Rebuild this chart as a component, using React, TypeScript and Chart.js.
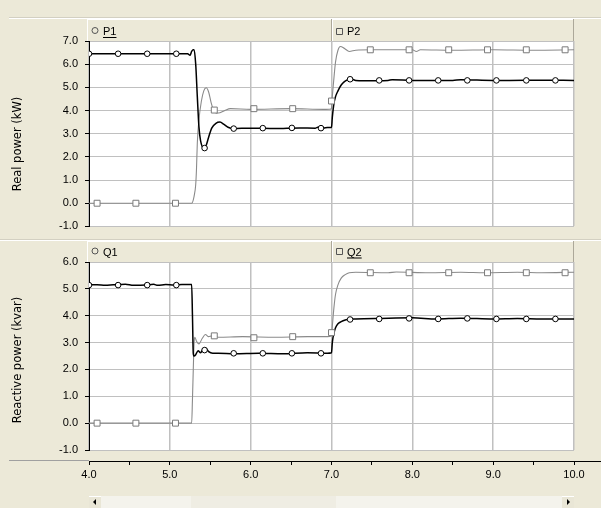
import React, { useEffect, useRef } from 'react';
import { Chart, registerables } from 'chart.js';

Chart.register(...registerables);

// ---------- data ----------
const xMin = 4;
const xMax = 10;

const p1Time = [4.0, 5.22, 5.25, 5.27, 5.29, 5.30, 5.32, 5.34, 5.36, 5.38, 5.42, 5.45, 5.48, 5.52, 5.57, 5.62, 5.67, 5.72, 5.78, 6.0, 6.3, 6.6, 6.8, 6.85, 6.9, 6.95, 7.0, 7.01, 7.03, 7.05, 7.08, 7.12, 7.16, 7.20, 7.24, 7.30, 7.40, 7.7, 7.75, 8.0, 8.5, 8.6, 9.0, 9.2, 9.6, 10.0];
const p1Values = [6.45, 6.45, 6.38, 6.55, 6.62, 6.62, 6.0, 4.6, 3.3, 2.7, 2.38, 2.5, 2.85, 3.25, 3.45, 3.5, 3.4, 3.28, 3.22, 3.24, 3.22, 3.25, 3.24, 3.3, 3.25, 3.27, 3.27, 3.7, 4.3, 4.6, 4.85, 5.1, 5.25, 5.33, 5.36, 5.3, 5.28, 5.3, 5.33, 5.3, 5.3, 5.33, 5.3, 5.3, 5.31, 5.3];

const p2Time = [4.0, 5.27, 5.30, 5.32, 5.33, 5.34, 5.36, 5.39, 5.42, 5.45, 5.48, 5.51, 5.54, 5.58, 5.62, 5.68, 5.75, 6.0, 6.5, 6.9, 6.99, 7.0, 7.01, 7.03, 7.05, 7.08, 7.11, 7.16, 7.22, 7.3, 7.5, 8.0, 8.05, 8.1, 8.5, 9.0, 9.5, 10.0];
const p2Values = [0, 0, 0.3, 0.8, 1.5, 2.6, 3.6, 4.4, 4.85, 4.98, 4.8, 4.35, 4.02, 3.88, 3.9, 4.0, 4.08, 4.05, 4.08, 4.05, 4.06, 4.1, 4.6, 5.4, 6.1, 6.6, 6.76, 6.68, 6.55, 6.6, 6.62, 6.62, 6.55, 6.62, 6.6, 6.62, 6.6, 6.62];

const q1Time = [4.0, 4.1, 4.2, 4.3, 4.45, 4.55, 4.7, 4.8, 4.85, 4.95, 5.05, 5.15, 5.27, 5.28, 5.29, 5.30, 5.32, 5.35, 5.38, 5.41, 5.44, 5.48, 5.53, 5.6, 5.8, 6.1, 6.4, 6.7, 6.95, 7.0, 7.01, 7.03, 7.05, 7.08, 7.12, 7.17, 7.22, 7.3, 7.6, 8.0, 8.3, 8.6, 9.0, 9.3, 9.6, 10.0];
const q1Values = [5.15, 5.15, 5.13, 5.15, 5.17, 5.13, 5.14, 5.17, 5.13, 5.16, 5.14, 5.16, 5.16, 4.0, 2.6, 2.5, 2.55, 2.7, 2.62, 2.75, 2.8, 2.66, 2.6, 2.6, 2.58, 2.6, 2.58, 2.62, 2.6, 2.62, 3.0, 3.35, 3.55, 3.7, 3.78, 3.84, 3.87, 3.88, 3.9, 3.92, 3.88, 3.91, 3.88, 3.9, 3.88, 3.88];

const q2Time = [4.0, 5.27, 5.28, 5.29, 5.30, 5.31, 5.33, 5.36, 5.40, 5.44, 5.48, 5.52, 5.6, 5.9, 6.3, 6.7, 6.95, 7.0, 7.01, 7.03, 7.05, 7.08, 7.12, 7.17, 7.22, 7.3, 7.7, 7.8, 8.2, 8.6, 8.9, 9.3, 9.6, 10.0];
const q2Values = [0, 0, 0.9, 2.0, 3.0, 3.2, 3.05, 2.95, 3.15, 3.3, 3.22, 3.25, 3.2, 3.22, 3.2, 3.22, 3.22, 3.25, 3.6, 4.3, 4.8, 5.15, 5.4, 5.53, 5.6, 5.62, 5.6, 5.63, 5.6, 5.62, 5.6, 5.62, 5.6, 5.62];

const circleMarkerTime = [4.0, 4.36, 4.72, 5.08, 5.43, 5.79, 6.15, 6.51, 6.87, 7.23, 7.59, 7.96, 8.32, 8.68, 9.04, 9.41, 9.77];
const squareMarkerTime = [4.1, 4.58, 5.07, 5.55, 6.04, 6.52, 7.0, 7.48, 7.96, 8.45, 8.93, 9.41, 9.89];
const p1MarkerValues = [6.45, 6.45, 6.45, 6.45, 2.38, 3.22, 3.24, 3.25, 3.24, 5.35, 5.3, 5.3, 5.3, 5.3, 5.3, 5.3, 5.3];
const p2MarkerValues = [0, 0, 0, 4.02, 4.08, 4.08, 4.41, 6.62, 6.62, 6.62, 6.62, 6.62, 6.62];
const q1MarkerValues = [5.14, 5.14, 5.14, 5.14, 2.72, 2.6, 2.6, 2.6, 2.6, 3.86, 3.88, 3.9, 3.88, 3.9, 3.88, 3.88, 3.88];
const q2MarkerValues = [0, 0, 0, 3.25, 3.18, 3.22, 3.37, 5.6, 5.6, 5.6, 5.6, 5.6, 5.6];

const topYMin = -1;
const topYMax = 7;
const bottomYMin = -1;
const bottomYMax = 6;

const topTitle = 'Real power (kW)';
const bottomTitle = 'Reactive power (kvar)';
const topLegend = ['P1', 'P2'];
const bottomLegend = ['Q1', 'Q2'];

// ---------- styling ----------
const BG = '#ECE9D8';
const GRID = '#C0C0C0';
const DARK_LINE = '#000000';
const GRAY_LINE = '#8A8A8A';
const FONT = "'Liberation Sans', Arial, sans-serif";
const TITLE_FONT = "'DejaVu Sans', sans-serif";

const zip = (t: number[], v: number[]) => t.map((x, i) => ({ x, y: v[i] }));

function drawSymbol(ctx: CanvasRenderingContext2D, kind: string, cx: number, cy: number) {
  ctx.save();
  ctx.strokeStyle = '#555';
  ctx.lineWidth = 1;
  ctx.beginPath();
  if (kind === 'circle') {
    ctx.arc(cx, cy, 3, 0, Math.PI * 2);
  } else {
    ctx.rect(Math.round(cx - 3) + 0.5, Math.round(cy - 3) + 0.5, 6, 6);
  }
  ctx.stroke();
  ctx.restore();
}

const decorPlugin = {
  id: 'panelDecor',
  beforeDraw(chart: any, _args: any, opts: any) {
    const ctx: CanvasRenderingContext2D = chart.ctx;
    const { width, height } = chart;
    const ca = chart.chartArea;
    const xs = chart.scales.x;
    ctx.save();
    ctx.fillStyle = BG;
    ctx.fillRect(0, 0, width, height);

    // plot area
    ctx.fillStyle = '#FFFFFF';
    ctx.fillRect(ca.left, ca.top, ca.right - ca.left, ca.bottom - ca.top);

    // separator lines at the top of the panel
    if (opts.topStrip) {
      ctx.fillStyle = '#D3D0C2';
      ctx.fillRect(9, 17, width - 9, 1);
      ctx.fillStyle = '#FFFFFF';
      ctx.fillRect(9, 18, width - 9, 1);
    }
    if (opts.topSeparator) {
      ctx.fillStyle = '#FFFFFF';
      ctx.fillRect(0, 0, width, 1);
    }
    if (opts.bottomSeparator) {
      ctx.fillStyle = '#D3D0C2';
      ctx.fillRect(0, height - 1, width, 1);
    }

    // header band
    const hTop = opts.headerTop;
    const hBot = ca.top;
    const x7 = Math.round(xs.getPixelForValue(7));
    ctx.fillStyle = '#FFFFFF';
    ctx.fillRect(87, hTop, ca.right - 87, 1);
    ctx.fillRect(87, hTop, 1, hBot - hTop);
    ctx.fillRect(x7, hTop, 1, hBot - hTop);
    ctx.fillStyle = '#ACA899';
    ctx.fillRect(x7 - 1, hTop, 1, hBot - hTop);
    ctx.fillRect(Math.round(ca.right) - 1, hTop, 1, hBot - hTop);

    // legend entries
    ctx.font = `11px ${FONT}`;
    ctx.fillStyle = '#000';
    ctx.textBaseline = 'alphabetic';
    ctx.textAlign = 'left';
    const base = opts.legendBaseline;
    const entries = [
      { x: 91, kind: 'circle', text: opts.legend[0], under: opts.underline[0] },
      { x: x7 + 3, kind: 'square', text: opts.legend[1], under: opts.underline[1] },
    ];
    for (const e of entries) {
      drawSymbol(ctx, e.kind, e.x + 4, base - 4.5);
      ctx.fillStyle = '#000';
      ctx.fillText(e.text, e.x + 12, base);
      if (e.under) {
        const w = ctx.measureText(e.text).width;
        ctx.fillRect(e.x + 12, base + 2, w, 1);
      }
    }

    // y-axis title
    ctx.save();
    ctx.translate(18, opts.titleY);
    ctx.rotate(-Math.PI / 2);
    ctx.font = `11.5px ${TITLE_FONT}`;
    ctx.fillStyle = '#000';
    ctx.textAlign = 'center';
    ctx.textBaseline = 'middle';
    ctx.fillText(opts.title, 0, 0);
    ctx.restore();

    if (opts.scrollbar) {
      const y0 = height - 12;
      const h = 12;
      const left = Math.round(ca.left);
      const right = Math.round(ca.right);
      // track
      ctx.fillStyle = '#F4F3EC';
      ctx.fillRect(left, y0, right - left, h);
      // thumb
      const t0 = 191, t1 = 336;
      ctx.fillStyle = '#EFEDE3';
      ctx.fillRect(t0, y0, t1 - t0, h);
      // buttons
      ctx.fillStyle = '#E9E6D6';
      ctx.fillRect(left, y0, 12, h);
      ctx.fillRect(right - 12, y0, 12, h);
      ctx.fillStyle = '#FFFFFF';
      ctx.fillRect(left, y0, 12, 1);
      ctx.fillRect(right - 12, y0, 12, 1);
      ctx.fillStyle = '#000';
      ctx.beginPath();
      ctx.moveTo(left + 4, y0 + 6);
      ctx.lineTo(left + 7, y0 + 3);
      ctx.lineTo(left + 7, y0 + 9);
      ctx.closePath();
      ctx.fill();
      ctx.beginPath();
      ctx.moveTo(right - 4, y0 + 6);
      ctx.lineTo(right - 7, y0 + 3);
      ctx.lineTo(right - 7, y0 + 9);
      ctx.closePath();
      ctx.fill();
      // axis lead-in line
      ctx.fillStyle = '#A0A0A0';
      ctx.fillRect(9, opts.axisY - 1, left - 9, 1);
      ctx.fillStyle = '#000';
      ctx.fillRect(right, opts.axisY, width - right, 1);
    }
    ctx.restore();
  },
};

function makeDatasets(
  darkT: number[], darkV: number[], grayT: number[], grayV: number[],
  cT: number[], cV: number[], sT: number[], sV: number[]
) {
  return [
    {
      data: zip(cT, cV), showLine: false, pointStyle: 'circle', pointRadius: 2.8,
      pointBorderColor: '#000', pointBackgroundColor: '#fff', pointBorderWidth: 1,
    },
    {
      data: zip(sT, sV), showLine: false, pointStyle: 'rect', pointRadius: 4.2,
      pointBorderColor: '#7A7A7A', pointBackgroundColor: '#fff', pointBorderWidth: 1,
    },
    {
      data: zip(darkT, darkV), showLine: true, pointRadius: 0, borderColor: DARK_LINE,
      borderWidth: 1.5, fill: false, cubicInterpolationMode: 'monotone',
    },
    {
      data: zip(grayT, grayV), showLine: true, pointRadius: 0, borderColor: GRAY_LINE,
      borderWidth: 1.1, fill: false, cubicInterpolationMode: 'monotone',
    },
  ];
}

function yScale(min: number, max: number) {
  return {
    type: 'linear',
    min,
    max,
    afterFit: (s: any) => { s.width = 89; },
    ticks: {
      stepSize: 1,
      color: '#000',
      padding: 7,
      font: { family: FONT, size: 11 },
      callback: (v: any) => Number(v).toFixed(1),
    },
    grid: { color: GRID, lineWidth: 1, tickColor: '#000', tickLength: 4 },
    border: { display: true, color: '#000', width: 1 },
  };
}

function gridX(height: number) {
  return {
    type: 'linear',
    min: xMin,
    max: xMax,
    weight: 0,
    afterFit: (s: any) => { s.height = height; },
    ticks: { display: false, stepSize: 1 },
    grid: { color: GRID, lineWidth: 1.5, drawTicks: false },
    border: { display: false },
  };
}

export default function App() {
  const topRef = useRef<HTMLCanvasElement>(null);
  const botRef = useRef<HTMLCanvasElement>(null);

  useEffect(() => {
    const prevMargin = document.body.style.margin;
    document.body.style.margin = '0';

    const top = new Chart(topRef.current as HTMLCanvasElement, {
      type: 'scatter',
      data: {
        datasets: makeDatasets(p1Time, p1Values, p2Time, p2Values,
          circleMarkerTime, p1MarkerValues, squareMarkerTime, p2MarkerValues) as any,
      },
      options: {
        responsive: false,
        animation: false,
        devicePixelRatio: 1,
        events: [],
        layout: { padding: { top: 41, right: 27, bottom: 11, left: 0 } },
        scales: {
          x: gridX(0) as any,
          y: yScale(topYMin, topYMax) as any,
        },
        plugins: {
          legend: { display: false },
          tooltip: { enabled: false },
          panelDecor: {
            topStrip: true,
            bottomSeparator: true,
            headerTop: 19,
            legend: topLegend,
            underline: [true, false],
            legendBaseline: 35,
            title: topTitle,
            titleY: 144,
          },
        } as any,
      },
      plugins: [decorPlugin as any],
    });

    const bottom = new Chart(botRef.current as HTMLCanvasElement, {
      type: 'scatter',
      data: {
        datasets: makeDatasets(q1Time, q1Values, q2Time, q2Values,
          circleMarkerTime, q1MarkerValues, squareMarkerTime, q2MarkerValues) as any,
      },
      options: {
        responsive: false,
        animation: false,
        devicePixelRatio: 1,
        events: [],
        layout: { padding: { top: 22, right: 27, bottom: 17, left: 0 } },
        scales: {
          x: gridX(11) as any,
          xAxis: {
            type: 'linear',
            position: 'bottom',
            min: xMin,
            max: xMax,
            weight: 1,
            afterFit: (s: any) => { s.height = 30; },
            ticks: {
              stepSize: 0.5,
              autoSkip: false,
              maxRotation: 0,
              color: '#000',
              padding: 3,
              font: { family: FONT, size: 11 },
              callback: (v: any) => (Math.abs(v - Math.round(v)) < 1e-9 ? Number(v).toFixed(1) : ''),
            },
            grid: { drawOnChartArea: false, drawTicks: true, tickLength: 4, tickColor: '#000', color: '#000' },
            border: { display: true, color: '#000', width: 1 },
          } as any,
          y: yScale(bottomYMin, bottomYMax) as any,
        },
        plugins: {
          legend: { display: false },
          tooltip: { enabled: false },
          panelDecor: {
            topSeparator: true,
            headerTop: 1,
            legend: bottomLegend,
            underline: [false, true],
            legendBaseline: 15.5,
            title: bottomTitle,
            titleY: 120,
            scrollbar: true,
            axisY: 221,
          },
        } as any,
      },
      plugins: [decorPlugin as any],
    });

    return () => {
      top.destroy();
      bottom.destroy();
      document.body.style.margin = prevMargin;
    };
  }, []);

  return (
    <div style={{ position: 'fixed', left: 0, top: 0, width: 601, height: 508, background: BG }}>
      <canvas ref={topRef} width={601} height={240}
        style={{ position: 'absolute', left: 0, top: 0, width: 601, height: 240 }} />
      <canvas ref={botRef} width={601} height={268}
        style={{ position: 'absolute', left: 0, top: 240, width: 601, height: 268 }} />
    </div>
  );
}
